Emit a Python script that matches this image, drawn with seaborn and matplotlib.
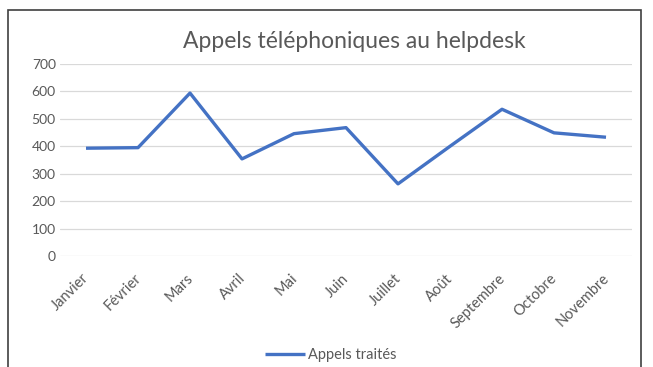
import matplotlib
matplotlib.use("Agg")
import matplotlib.pyplot as plt
import matplotlib.transforms as mtransforms
import seaborn as sns
import pandas as pd
from matplotlib.patches import Rectangle

mois = ["Janvier", "Février", "Mars", "Avril", "Mai", "Juin", "Juillet",
        "Août", "Septembre", "Octobre", "Novembre"]
appels = [393, 395, 594, 354, 446, 468, 263, 400, 535, 449, 433]
serie = "Appels traités"
yticks = [0, 100, 200, 300, 400, 500, 600, 700]

df = pd.DataFrame({"mois": mois, "appels": appels, "pos": range(len(mois))})

sns.set_theme(style="white")
plt.rcParams["font.family"] = ["Lato", "DejaVu Sans"]

gris = "#595959"
fig = plt.figure(figsize=(6.53, 3.67), dpi=100)
ax = fig.add_axes([60 / 653, 1 - 256 / 367, 572 / 653, 192 / 367])

sns.lineplot(data=df, x="pos", y="appels", ax=ax, color="#4472C4",
             linewidth=2.4, label=serie, solid_capstyle="butt")

ax.set_xlim(-0.5, len(mois) - 0.5)
ax.set_ylim(0, 700)
ax.set_yticks(yticks)
ax.set_yticklabels([str(v) for v in yticks], color=gris, fontsize=10)
ax.set_xticks(range(len(mois)))
ax.set_xticklabels(mois, rotation=45, ha="right", rotation_mode="anchor",
                   color=gris, fontsize=10.5)
ax.tick_params(axis="x", length=0, pad=11)
ax.tick_params(axis="y", length=0, pad=3)
# nudge the rotated month labels slightly to the left
decal = mtransforms.ScaledTranslation(-4 / 100, 0, fig.dpi_scale_trans)
for lbl in ax.get_xticklabels():
    lbl.set_transform(lbl.get_transform() + decal)
ax.grid(axis="y", color="#D9D9D9", linewidth=0.9)
ax.set_axisbelow(True)
for s in ax.spines.values():
    s.set_visible(False)
ax.set_xlabel("")
ax.set_ylabel("")

fig.text(354 / 653, 1 - 41 / 367, "Appels téléphoniques au helpdesk",
         ha="center", va="center", fontsize=16.5, color=gris)

leg = ax.legend(loc="center", bbox_to_anchor=(331 / 653, 1 - 355 / 367),
                bbox_transform=fig.transFigure, frameon=False, fontsize=10.5,
                handlelength=2.75, handletextpad=0.2)
for t in leg.get_texts():
    t.set_color(gris)

# chart frame
fig.patches.append(Rectangle((8 / 653, -0.05), 633 / 653, 1.05 - 10 / 367,
                             transform=fig.transFigure, fill=False,
                             edgecolor="#404040", linewidth=1.2))

fig.savefig("out.png", dpi=100)
